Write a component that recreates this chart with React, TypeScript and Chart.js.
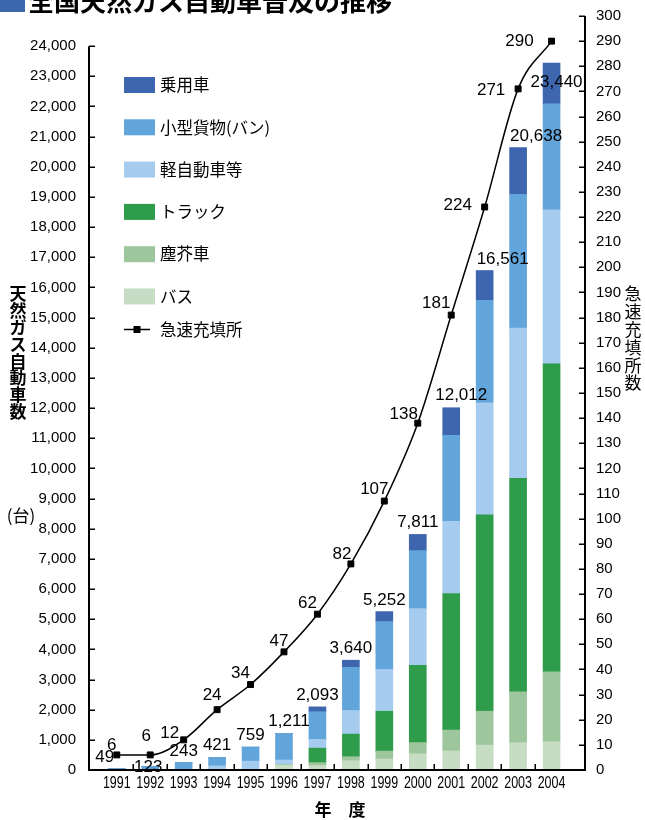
import React, { useEffect, useRef } from 'react';
import { Chart, registerables } from 'chart.js';

Chart.register(...registerables);

// ---------- data ----------
const years = [1991, 1992, 1993, 1994, 1995, 1996, 1997, 1998, 1999, 2000, 2001, 2002, 2003, 2004];
const seriesLabels = ['バス', '塵芥車', 'トラック', '軽自動車等', '小型貨物(バン)', '乗用車'];
const busValues = [0, 0, 0, 0, 0, 171, 148, 306, 363, 540, 630, 826, 906, 939];
const garbageValues = [0, 0, 0, 0, 0, 0, 96, 136, 264, 370, 695, 1124, 1685, 2312];
const truckValues = [0, 0, 0, 0, 0, 0, 481, 748, 1321, 2558, 4528, 6512, 7079, 10216];
const keiValues = [0, 0, 0, 136, 292, 160, 288, 783, 1387, 1885, 2394, 3712, 4985, 5108];
const vanValues = [49, 123, 243, 285, 467, 880, 920, 1429, 1586, 1919, 2848, 3395, 4431, 3515];
const carValues = [0, 0, 0, 0, 0, 0, 160, 238, 331, 539, 917, 992, 1552, 1350];
const totalValues = [49, 123, 243, 421, 759, 1211, 2093, 3640, 5252, 7811, 12012, 16561, 20638, 23440];
const stationLabel = '急速充填所';
const stationValues = [6, 6, 12, 24, 34, 47, 62, 82, 107, 138, 181, 224, 271, 290];
const seriesColors = ['#C6DDC3', '#9DC69C', '#2E9C4B', '#A5CBEE', '#62A5DA', '#3D66AE'];

const titleText = '全国天然ガス自動車普及の推移';
const leftTitle = '天然ガス自動車数';
const leftUnit = '(台)';
const rightTitle = '急速充填所数';
const xTitle = '年　度';

const leftMax = 25000;
const leftTickMax = 24000;
const leftStep = 1000;
const rightMax = 300;
const rightStep = 10;

// ---------- fonts ----------
const CJK = "'Noto Sans CJK JP', 'Noto Sans', sans-serif";
const NUM = "'Liberation Sans', Arial, sans-serif";

// label placement tweaks (pixel nudges used to avoid collisions, like the original)
const totalNudge: Record<number, [number, number]> = {
  0: [-12, -7], 1: [-2, 6], 5: [5, -7], 10: [10, -8], 11: [18, -7], 12: [18, -7], 13: [5, 24],
};
const stationNudge: [number, number][] = [
  [-5, -10], [-4, -19], [-14, -7], [-5, -14], [-10, -11], [-5, -11], [-10, -11],
  [-9, -10], [-10, -12], [-14, -9], [-15, -12], [-27, -2], [-27, 1], [-32, 0],
];

function drawVertical(ctx: CanvasRenderingContext2D, text: string, cx: number, top: number, step: number) {
  const chars = Array.from(text);
  chars.forEach((ch, i) => {
    ctx.fillText(ch, cx, top + step / 2 + i * step);
  });
}

const decorPlugin = {
  id: 'decor',
  afterDatasetsDraw(chart: any) {
    const { ctx, chartArea: ca, scales } = chart;
    const xs = scales.x;
    const ys = scales.y;
    const y1 = scales.y1;
    ctx.save();

    // axes lines
    ctx.strokeStyle = '#000';
    ctx.lineWidth = 2;
    ctx.beginPath();
    ctx.moveTo(ca.left - 1, ca.bottom);
    ctx.lineTo(ca.right + 1, ca.bottom);
    ctx.moveTo(ca.right, ca.top);
    ctx.lineTo(ca.right, ca.bottom);
    ctx.moveTo(ca.left, ys.getPixelForValue(leftTickMax));
    ctx.lineTo(ca.left, ca.bottom);
    ctx.stroke();

    // tick marks (inward)
    ctx.lineWidth = 1.5;
    ctx.beginPath();
    for (let v = 0; v <= leftTickMax; v += leftStep) {
      const py = Math.round(ys.getPixelForValue(v)) + 0.25;
      ctx.moveTo(ca.left, py);
      ctx.lineTo(ca.left + 6, py);
    }
    for (let v = 0; v <= rightMax; v += rightStep) {
      const py = Math.round(y1.getPixelForValue(v)) + 0.25;
      ctx.moveTo(ca.right - 6, py);
      ctx.lineTo(ca.right, py);
    }
    for (let i = 0; i < years.length - 1; i++) {
      const px = Math.round(xs.getPixelForValue(years[i] + 0.5)) + 0.25;
      ctx.moveTo(px, ca.bottom);
      ctx.lineTo(px, ca.bottom - 6);
    }
    ctx.stroke();

    // x tick labels (condensed)
    ctx.fillStyle = '#000';
    ctx.font = `16px ${NUM}`;
    ctx.textAlign = 'center';
    ctx.textBaseline = 'middle';
    years.forEach((yr) => {
      const px = xs.getPixelForValue(yr);
      ctx.save();
      ctx.translate(px, ca.bottom + 14);
      ctx.scale(0.78, 1);
      ctx.fillText(String(yr), 0, 0);
      ctx.restore();
    });

    // totals above bars
    ctx.font = `17px ${NUM}`;
    ctx.textAlign = 'center';
    ctx.textBaseline = 'alphabetic';
    totalValues.forEach((t, i) => {
      const px = xs.getPixelForValue(years[i]);
      const py = ys.getPixelForValue(t);
      const [dx, dy] = totalNudge[i] || [0, -7];
      ctx.fillText(t.toLocaleString('en-US'), px + dx, py + dy);
    });

    // station labels
    ctx.textBaseline = 'middle';
    ctx.textAlign = 'center';
    stationValues.forEach((s, i) => {
      const px = xs.getPixelForValue(years[i]);
      const py = y1.getPixelForValue(s);
      const [dx, dy] = stationNudge[i];
      ctx.fillText(String(s), px + dx, py + dy);
    });

    // title (partially clipped at top)
    ctx.fillStyle = '#3C68B0';
    ctx.fillRect(0, -13, 25, 25);
    ctx.fillStyle = '#000';
    ctx.font = `bold 26px ${CJK}`;
    ctx.textAlign = 'left';
    ctx.textBaseline = 'alphabetic';
    ctx.fillText(titleText, 28, 11);

    // axis titles
    ctx.textAlign = 'center';
    ctx.textBaseline = 'middle';
    ctx.font = `bold 17px ${CJK}`;
    drawVertical(ctx, leftTitle, 18, 285, 16.9);
    ctx.font = `17px ${CJK}`;
    ctx.fillText(leftUnit, 21, 516);
    ctx.font = `17px ${CJK}`;
    drawVertical(ctx, rightTitle, 633, 285, 17.8);
    ctx.font = `bold 17px ${CJK}`;
    ctx.fillText(xTitle, 340, 810);

    // legend
    const bars = chart.data.datasets.filter((d: any) => d.type !== 'line').slice().reverse();
    ctx.font = `16.5px ${CJK}`;
    ctx.textAlign = 'left';
    ctx.textBaseline = 'middle';
    bars.forEach((d: any, i: number) => {
      const cy = 85 + i * 42.3;
      ctx.fillStyle = d.backgroundColor;
      ctx.fillRect(124, cy - 8, 31, 16);
      ctx.fillStyle = '#000';
      ctx.fillText(d.label, 160, cy);
    });
    const lineY = 85 + (bars.length - 1) * 42.3 + 33;
    ctx.strokeStyle = '#000';
    ctx.lineWidth = 1.5;
    ctx.beginPath();
    ctx.moveTo(124, lineY);
    ctx.lineTo(150, lineY);
    ctx.stroke();
    ctx.fillStyle = '#000';
    ctx.fillRect(133.5, lineY - 3.5, 7, 7);
    ctx.fillText(stationLabel, 160, lineY);

    ctx.restore();
  },
};

export default function App() {
  const canvasRef = useRef<HTMLCanvasElement | null>(null);

  useEffect(() => {
    const canvas = canvasRef.current;
    if (!canvas) return;
    const seriesData = [busValues, garbageValues, truckValues, keiValues, vanValues, carValues];
    const barSets = seriesData.map((vals, si) => ({
      type: 'bar' as const,
      label: seriesLabels[si],
      data: years.map((yr, i) => ({ x: yr, y: vals[i] })),
      backgroundColor: seriesColors[si],
      borderWidth: 0,
      barThickness: 17,
      yAxisID: 'y',
      order: 1,
    }));
    const lineSet = {
      type: 'line' as const,
      label: stationLabel,
      data: years.map((yr, i) => ({ x: yr, y: stationValues[i] })),
      borderColor: '#000',
      backgroundColor: '#000',
      borderWidth: 1.5,
      pointStyle: 'rect',
      pointRadius: 4.2,
      pointBorderWidth: 1,
      cubicInterpolationMode: 'monotone' as const,
      yAxisID: 'y1',
      order: 0,
    };

    const chart = new Chart(canvas, {
      type: 'bar',
      data: { datasets: [...barSets, lineSet] as any },
      plugins: [decorPlugin],
      options: {
        animation: false,
        responsive: false,
        devicePixelRatio: 1,
        layout: { padding: { top: 16, left: 0, right: 0, bottom: 0 } },
        plugins: {
          legend: { display: false },
          tooltip: { enabled: false },
          title: { display: false },
        },
        scales: {
          x: {
            type: 'linear',
            offset: false,
            min: 1990.17,
            max: 2005.0,
            stacked: true,
            grid: { display: false, offset: false },
            border: { display: false },
            afterBuildTicks: (scale: any) => {
              scale.ticks = years.map((v) => ({ value: v }));
            },
            afterFit: (scale: any) => {
              scale.height = 50;
            },
            ticks: { display: false },
          },
          y: {
            type: 'linear',
            position: 'left',
            stacked: true,
            min: 0,
            max: leftMax,
            grid: { display: false },
            border: { display: false },
            afterFit: (scale: any) => {
              scale.width = 89;
            },
            ticks: {
              stepSize: leftStep,
              autoSkip: false,
              padding: 5,
              color: '#000',
              font: { family: NUM, size: 15 },
              callback: (v: any) => (Number(v) <= leftTickMax ? Number(v).toLocaleString('en-US') : ''),
            },
          },
          y1: {
            type: 'linear',
            position: 'right',
            min: 0,
            max: rightMax,
            grid: { display: false },
            border: { display: false },
            afterFit: (scale: any) => {
              scale.width = 60;
            },
            ticks: {
              stepSize: rightStep,
              autoSkip: false,
              padding: 3,
              color: '#000',
              font: { family: NUM, size: 15 },
              callback: (v: any) => String(v),
            },
          },
        },
      } as any,
    });
    return () => chart.destroy();
  }, []);

  return (
    <div style={{ position: 'absolute', left: 0, top: 0, width: 645, height: 820, background: '#fff' }}>
      <canvas ref={canvasRef} width={645} height={820} style={{ width: 645, height: 820, display: 'block' }} />
    </div>
  );
}
